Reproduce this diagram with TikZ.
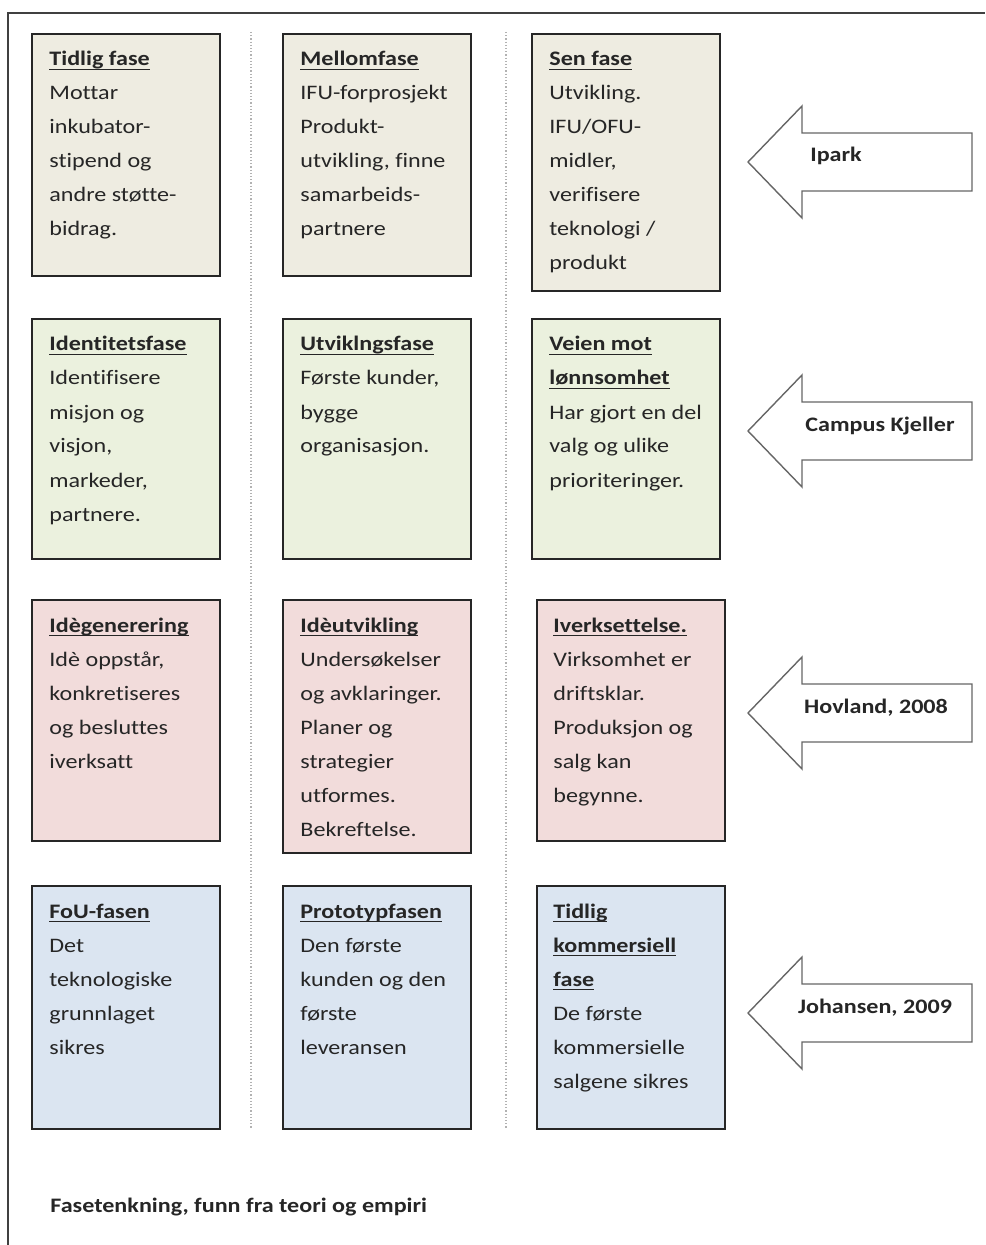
\documentclass[tikz,border=0pt]{standalone}
\usepackage{fontspec}
\setmainfont{Carlito}[FakeStretch=1.17, Ligatures=NoCommon]
\usepackage{tikz}
\usetikzlibrary{positioning, calc}
\definecolor{framegray}{HTML}{404040}
\definecolor{inktext}{HTML}{262626}
\definecolor{phasebeige}{HTML}{EEECE1}
\definecolor{phasegreen}{HTML}{EBF1DE}
\definecolor{phasepink}{HTML}{F2DCDB}
\definecolor{phaseblue}{HTML}{DBE5F1}
% underlined heading, rule just under the baseline
\newcommand{\phasehead}[1]{\setbox0\hbox{\bfseries#1}\rlap{\rule[-2pt]{\wd0}{0.7pt}}\box0}
% lines of a box, baseline on the first one
\newcommand{\phaselines}[1]{\begin{tabular}[t]{@{}l@{}}#1\end{tabular}}

\begin{document}
\begin{tikzpicture}[x=0.5pt, y=-0.5pt,
  phase/.style={draw=black!85, line width=0.8pt, anchor=north west, inner sep=0pt,
                minimum width=94pt},
  phasetext/.style={anchor=base west, inner sep=0pt, text=inktext,
                    font=\fontsize{10.3pt}{17pt}\selectfont},
  sourcearrow/.style={draw=black!60, line width=0.7pt, fill=white, line join=miter},
  sourcelabel/.style={anchor=base, inner sep=0pt, text=inktext,
                      font=\fontsize{10.3pt}{17pt}\selectfont\bfseries},
  divider/.style={gray!60, densely dotted, line width=0.6pt}
]
  \useasboundingbox (0,0) rectangle (985,1245);
  \draw[framegray, line width=1pt] (8,1245) -- (8,13) -- (985,13);

  \draw[divider] (251,32) -- (251,1128);
  \draw[divider] (506,32) -- (506,1128);

  % row 1
  \node[phase, fill=phasebeige, minimum height=121pt] (tidlig) at (31,33) {};
  \node[phase, fill=phasebeige, minimum height=121pt] (mellom) at (282,33) {};
  \node[phase, fill=phasebeige, minimum height=128.5pt] (sen) at (531,33) {};
  \node[phasetext] (tidligtxt) at ($(tidlig.north west)+(18,33)$)
    {\phaselines{\phasehead{Tidlig fase}\\Mottar\\inkubator-\\stipend og\\andre støtte-\\bidrag.}};
  \node[phasetext] (mellomtxt) at ($(mellom.north west)+(18,33)$)
    {\phaselines{\phasehead{Mellomfase}\\IFU-forprosjekt\\Produkt-\\utvikling, finne\\samarbeids-\\partnere}};
  \node[phasetext] (sentxt) at ($(sen.north west)+(18,33)$)
    {\phaselines{\phasehead{Sen fase}\\Utvikling.\\IFU/OFU-\\midler,\\verifisere\\teknologi /\\produkt}};

  % row 2
  \node[phase, fill=phasegreen, minimum height=120pt] (identitet) at (31,318) {};
  \node[phase, fill=phasegreen, minimum height=120pt] (utvikling) at (282,318) {};
  \node[phase, fill=phasegreen, minimum height=120pt] (veien) at (531,318) {};
  \node[phasetext] (identitettxt) at ($(identitet.north west)+(18,33)$)
    {\phaselines{\phasehead{Identitetsfase}\\Identifisere\\misjon og\\visjon,\\markeder,\\partnere.}};
  \node[phasetext] (utviklingtxt) at ($(utvikling.north west)+(18,33)$)
    {\phaselines{\phasehead{Utviklngsfase}\\Første kunder,\\bygge\\organisasjon.}};
  \node[phasetext] (veientxt) at ($(veien.north west)+(18,33)$)
    {\phaselines{\phasehead{Veien mot}\\\phasehead{lønnsomhet}\\Har gjort en del\\valg og ulike\\prioriteringer.}};

  % row 3
  \node[phase, fill=phasepink, minimum height=120.5pt] (idegen) at (31,599) {};
  \node[phase, fill=phasepink, minimum height=126.5pt] (ideutv) at (282,599) {};
  \node[phase, fill=phasepink, minimum height=120.5pt] (iverk) at (536,599) {};
  \node[phasetext] (idegentxt) at ($(idegen.north west)+(18,33)$)
    {\phaselines{\phasehead{Idègenerering}\\Idè oppstår,\\konkretiseres\\og besluttes\\iverksatt}};
  \node[phasetext] (ideutvtxt) at ($(ideutv.north west)+(18,33)$)
    {\phaselines{\phasehead{Idèutvikling}\\Undersøkelser\\og avklaringer.\\Planer og\\strategier\\utformes.\\Bekreftelse.}};
  \node[phasetext] (iverktxt) at ($(iverk.north west)+(17,33)$)
    {\phaselines{\phasehead{Iverksettelse.}\\Virksomhet er\\driftsklar.\\Produksjon og\\salg kan\\begynne.}};

  % row 4
  \node[phase, fill=phaseblue, minimum height=121.5pt] (fou) at (31,885) {};
  \node[phase, fill=phaseblue, minimum height=121.5pt] (proto) at (282,885) {};
  \node[phase, fill=phaseblue, minimum height=121.5pt] (kommers) at (536,885) {};
  \node[phasetext] (foutxt) at ($(fou.north west)+(18,33)$)
    {\phaselines{\phasehead{FoU-fasen}\\Det\\teknologiske\\grunnlaget\\sikres}};
  \node[phasetext] (prototxt) at ($(proto.north west)+(18,33)$)
    {\phaselines{\phasehead{Prototypfasen}\\Den første\\kunden og den\\første\\leveransen}};
  \node[phasetext] (kommerstxt) at ($(kommers.north west)+(17,33)$)
    {\phaselines{\phasehead{Tidlig}\\\phasehead{kommersiell}\\\phasehead{fase}\\De første\\kommersielle\\salgene sikres}};

  % source arrows
  \foreach \cy/\lx/\lab/\nm in {162/836/Ipark/ipark, 431/880/Campus Kjeller/campus,
                                 713/876/{Hovland, 2008}/hovland, 1013/875/{Johansen, 2009}/johansen}{
    \draw[sourcearrow] (748,\cy) -- (802,\cy-56) -- (802,\cy-29) -- (972,\cy-29)
      -- (972,\cy+29) -- (802,\cy+29) -- (802,\cy+56) -- cycle;
    \node[sourcelabel] (\nm) at (\lx,\cy) {\lab};
  }

  \node[phasetext, font=\fontsize{10.3pt}{17pt}\selectfont\bfseries] (caption) at (50,1212)
    {Fasetenkning, funn fra teori og empiri};
\end{tikzpicture}
\end{document}
